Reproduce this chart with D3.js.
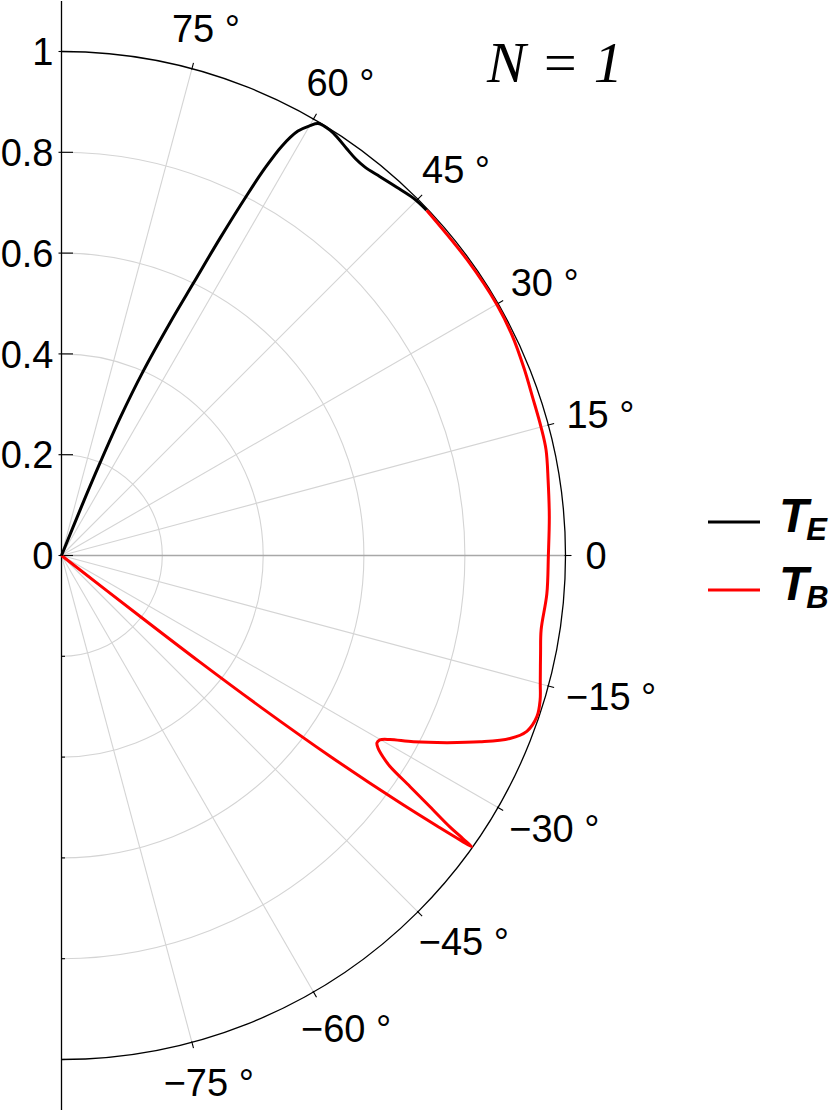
<!DOCTYPE html>
<html><head><meta charset="utf-8">
<script src="https://cdn.jsdelivr.net/npm/d3@7"></script>
<style>
body{margin:0;background:#fff;}
svg{display:block;}
</style></head><body>
<svg id="chart" width="830" height="1110"></svg>
<script>
// ---------- data ----------
const gridRadii = [0.2, 0.4, 0.6, 0.8];
const axisTickValues = [0, 0.2, 0.4, 0.6, 0.8, 1];
const axisTickLabels = ["0", "0.2", "0.4", "0.6", "0.8", "1"];
const axisMinorTicks = [-0.2, -0.4, -0.6, -0.8, -1];
const angleTicks = [-75, -60, -45, -30, -15, 0, 15, 30, 45, 60, 75];
const angleLabels = ["\u221275 \u00b0", "\u221260 \u00b0", "\u221245 \u00b0", "\u221230 \u00b0", "\u221215 \u00b0", "0", "15 \u00b0", "30 \u00b0", "45 \u00b0", "60 \u00b0", "75 \u00b0"];

// T_B (red) : angle in degrees, radius
const tbTheta = [-37.9, -37.75, -37.6, -37.27, -36.78, -36.16, -35.74, -35.5, -35.37, -35.2, -34.95, -34.29, -33.55, -32.69, -32.08, -31.31, -30.72, -30.08, -29.26, -27.9, -25.9, -24.0, -22.2, -20.7, -18.7, -16.8, -14.9, -11.5, -8.8, -4.5, 0, 4.6, 8.8, 12.3, 15.0, 18.5, 22.0, 26.0, 30.0, 36.0, 43.4];
const tbR     = [0.0, 0.2, 0.346, 0.5, 0.666, 0.83, 0.924, 0.975, 0.998, 0.975, 0.940, 0.885, 0.830, 0.774, 0.753, 0.735, 0.728, 0.730, 0.747, 0.790, 0.850, 0.909, 0.961, 0.987, 0.996, 0.992, 0.983, 0.970, 0.963, 0.966, 0.966, 0.971, 0.977, 0.984, 0.985, 0.986, 0.990, 0.995, 0.997, 0.996, 0.997];

// T_E (black)
const teTheta = [68.0, 67.8, 67.4, 66.9, 66.1, 65.0, 64.16, 63.45, 62.77, 62.29, 61.70, 60.88, 59.97, 59.28, 57.75, 56.43, 55.0, 53.5, 52.0, 49.94, 47.68, 45.44, 43.41];
const teR     = [0.0, 0.1, 0.2, 0.3, 0.399, 0.509, 0.600, 0.704, 0.804, 0.868, 0.923, 0.964, 0.985, 0.997, 0.998, 0.993, 0.986, 0.980, 0.978, 0.982, 0.988, 0.995, 0.997];

const seriesNames = ["E", "B"];
const seriesColors = ["#000000", "#ff0000"];
const titleParts = ["N", " = ", "1"];

// ---------- layout ----------
const svg = d3.select("#chart");
const cx = 61.5, cy = 555.5, R = 504;
const rScale = d3.scaleLinear().domain([0, 1]).range([0, R]);
const yScale = d3.scaleLinear().domain([-1.1, 1.1]).range([cy + 1.1 * R, cy - 1.1 * R]);
const rad = d => d * Math.PI / 180;
const px = (t, r) => cx + rScale(r) * Math.cos(rad(t));
const py = (t, r) => cy - rScale(r) * Math.sin(rad(t));

const g = svg.append("g");

// grid circles
gridRadii.forEach(r => {
  const p = d3.path();
  p.moveTo(cx, cy - rScale(r));
  p.arc(cx, cy, rScale(r), -Math.PI / 2, Math.PI / 2);
  g.append("path").attr("d", p.toString()).attr("fill", "none")
    .attr("stroke", "#d4d4d4").attr("stroke-width", 1.1);
});
// spokes
angleTicks.forEach(t => {
  g.append("line")
    .attr("x1", cx).attr("y1", cy)
    .attr("x2", px(t, 1)).attr("y2", py(t, 1))
    .attr("stroke", t === 0 ? "#a8a8a8" : "#d4d4d4")
    .attr("stroke-width", t === 0 ? 1.3 : 1.1);
});
// outer circle
{
  const p = d3.path();
  p.moveTo(cx, cy - rScale(1));
  p.arc(cx, cy, rScale(1), -Math.PI / 2, Math.PI / 2);
  g.append("path").attr("d", p.toString()).attr("fill", "none")
    .attr("stroke", "#000").attr("stroke-width", 1.3);
}
// angular ticks
angleTicks.forEach(t => {
  const c = Math.cos(rad(t)), s = Math.sin(rad(t));
  g.append("line")
    .attr("x1", cx + (R - 1) * c).attr("y1", cy - (R - 1) * s)
    .attr("x2", cx + (R + 6) * c).attr("y2", cy - (R + 6) * s)
    .attr("stroke", "#000").attr("stroke-width", 1.1);
});
// angle labels: box placed outward from the tick, aligned by direction
const fs = 38, gap = 20, boxH = 1.15 * fs;
angleTicks.forEach((t, i) => {
  const txt = g.append("text").text(angleLabels[i])
    .attr("font-family", "Liberation Sans, Arial, sans-serif")
    .attr("font-size", fs).attr("text-anchor", "middle").attr("fill", "#000");
  const W = txt.node().getComputedTextLength();
  const c = Math.cos(rad(t)), s = Math.sin(rad(t));
  const xc = px(t, 1) + (gap + W / 2) * c;
  const yc = py(t, 1) - (gap + boxH / 2) * s;
  txt.attr("x", xc).attr("y", yc + 0.358 * fs);
});

// vertical axis
g.append("line").attr("x1", cx).attr("x2", cx)
  .attr("y1", yScale(1.1)).attr("y2", yScale(-1.1))
  .attr("stroke", "#000").attr("stroke-width", 1.3);
axisTickValues.forEach((v, i) => {
  g.append("line").attr("x1", cx - 3).attr("x2", cx + 11.5)
    .attr("y1", yScale(v)).attr("y2", yScale(v))
    .attr("stroke", "#000").attr("stroke-width", 1.1);
  g.append("text").text(axisTickLabels[i])
    .attr("x", cx - 8).attr("y", yScale(v) + 0.358 * fs)
    .attr("text-anchor", "end")
    .attr("font-family", "Liberation Sans, Arial, sans-serif")
    .attr("font-size", fs).attr("fill", "#000");
});
axisMinorTicks.forEach(v => {
  g.append("line").attr("x1", cx).attr("x2", cx + 3.5)
    .attr("y1", yScale(v)).attr("y2", yScale(v))
    .attr("stroke", "#000").attr("stroke-width", 1.1);
});

// curves
const line = d3.line().x(d => px(d[0], d[1])).y(d => py(d[0], d[1]))
  .curve(d3.curveCatmullRom.alpha(0.5));
const tbData = d3.zip(tbTheta, tbR);
const teData = d3.zip(teTheta, teR);
g.append("path").attr("d", line(tbData)).attr("fill", "none")
  .attr("stroke", seriesColors[1]).attr("stroke-width", 3).attr("stroke-linejoin", "round");
g.append("path").attr("d", line(teData)).attr("fill", "none")
  .attr("stroke", seriesColors[0]).attr("stroke-width", 3).attr("stroke-linejoin", "round");

// title
const title = svg.append("text").attr("x", 487).attr("y", 82)
  .attr("font-family", "Liberation Serif, Times New Roman, serif")
  .attr("font-style", "italic").attr("font-size", 58).attr("fill", "#000");
titleParts.forEach(p => title.append("tspan").text(p));

// legend
const legY = [522, 590];
seriesNames.forEach((n, i) => {
  svg.append("line").attr("x1", 708).attr("x2", 760)
    .attr("y1", legY[i]).attr("y2", legY[i])
    .attr("stroke", seriesColors[i]).attr("stroke-width", 3);
  const t = svg.append("text").attr("x", 779).attr("y", legY[i] + 10)
    .attr("font-family", "Liberation Sans, Arial, sans-serif")
    .attr("font-weight", "bold").attr("font-style", "italic")
    .attr("font-size", 48).attr("fill", "#000");
  t.append("tspan").text("T");
  t.append("tspan").text(n).attr("font-size", 31).attr("dy", 8).attr("dx", -2);
});
</script>
</body></html>
